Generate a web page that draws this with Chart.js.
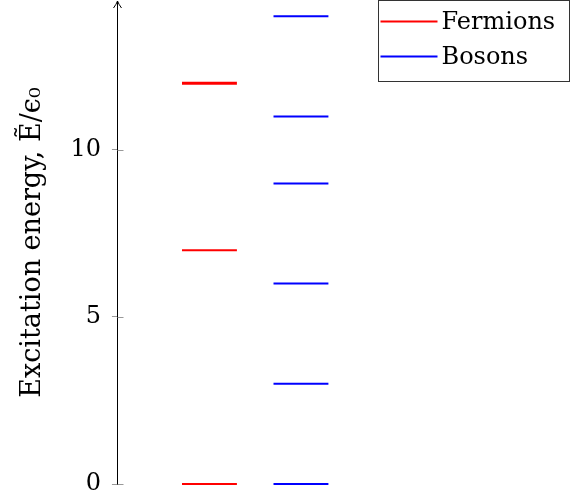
<!DOCTYPE html>
<html>
<head>
<meta charset="utf-8">
<script src="https://cdn.jsdelivr.net/npm/chart.js@4/dist/chart.umd.min.js"></script>
<style>
  html, body { margin: 0; padding: 0; background: #fff; }
  #wrap { width: 570px; height: 499px; }
</style>
</head>
<body>
<div id="wrap"><canvas id="levels"></canvas></div>
<script>
// energy levels, in units of eps0
const seriesNames = ['Fermions', 'Bosons'];
const fermionLevels = [0, 7, 12];
const fermionDegeneracy = [1, 1, 2];
const bosonLevels = [0, 3, 6, 9, 11, 14];
const bosonDegeneracy = [1, 1, 1, 1, 1, 1];
const columnPos = [1, 2];
const yTicks = [0, 5, 10];

const FONT = 'DejaVu Serif';

// each level -> short horizontal segment, gaps between them
function levelPoints(levels, xc) {
  const pts = [];
  levels.forEach(e => {
    pts.push({ x: xc - 0.3, y: e });
    pts.push({ x: xc + 0.3, y: e });
    pts.push({ x: xc, y: null });
  });
  return pts;
}

function degWidth(deg) {
  return ctx => deg[Math.floor(ctx.p0DataIndex / 3)] > 1 ? 3 : 2;
}

// arrow on top of the y axis + inner half of the ticks
const axisArrow = {
  id: 'axisArrow',
  afterDraw(chart) {
    const c = chart.ctx;
    const y = chart.scales.y;
    const x = Math.round(y.right) - 0.5;
    const top = chart.chartArea.top;
    c.save();
    c.strokeStyle = '#999';
    c.lineWidth = 1;
    yTicks.forEach(v => {
      const py = Math.round(y.getPixelForValue(v)) + 0.5;
      c.beginPath();
      c.moveTo(x, py);
      c.lineTo(x + 6, py);
      c.stroke();
    });
    c.strokeStyle = '#000';
    c.beginPath();
    c.moveTo(x - 4, top + 7);
    c.quadraticCurveTo(x - 1, top + 3, x, top);
    c.quadraticCurveTo(x + 1, top + 3, x + 4, top + 7);
    c.stroke();
    c.restore();
  }
};

// boxed legend in the top right corner
const boxLegend = {
  id: 'boxLegend',
  afterDraw(chart) {
    const c = chart.ctx;
    const w = 191, h = 81;
    const x0 = chart.width - w - 0.5, y0 = 0.5;
    c.save();
    c.fillStyle = '#fff';
    c.fillRect(x0, y0, w, h);
    c.strokeStyle = '#333';
    c.lineWidth = 1;
    c.strokeRect(x0, y0, w, h);
    c.font = '24px "' + FONT + '"';
    c.textBaseline = 'middle';
    chart.data.datasets.forEach((ds, i) => {
      const yy = y0 + 21 + i * 35;
      c.strokeStyle = ds.borderColor;
      c.lineWidth = 2;
      c.beginPath();
      c.moveTo(x0 + 2, yy);
      c.lineTo(x0 + 59, yy);
      c.stroke();
      c.fillStyle = '#000';
      c.fillText(ds.label, x0 + 63, yy + 1);
    });
    c.restore();
  }
};

new Chart(document.getElementById('levels'), {
  type: 'line',
  data: {
    datasets: [
      {
        label: seriesNames[0],
        data: levelPoints(fermionLevels, columnPos[0]),
        borderColor: '#ff0000',
        borderWidth: 2,
        pointRadius: 0,
        spanGaps: false,
        clip: false,
        segment: { borderWidth: degWidth(fermionDegeneracy) }
      },
      {
        label: seriesNames[1],
        data: levelPoints(bosonLevels, columnPos[1]),
        borderColor: '#0000ff',
        borderWidth: 2,
        pointRadius: 0,
        spanGaps: false,
        clip: false,
        segment: { borderWidth: degWidth(bosonDegeneracy) }
      }
    ]
  },
  options: {
    responsive: true,
    maintainAspectRatio: false,
    animation: false,
    layout: { padding: { top: 1, bottom: 15, right: 0, left: 4 } },
    plugins: {
      legend: { display: false },
      tooltip: { enabled: false }
    },
    scales: {
      x: {
        type: 'linear',
        display: false,
        min: 0,
        max: 4.94
      },
      y: {
        type: 'linear',
        min: 0,
        max: 14.46,
        border: { display: true, color: '#000', width: 1 },
        grid: { drawOnChartArea: false, tickLength: 6, color: '#999' },
        afterBuildTicks: scale => { scale.ticks = yTicks.map(v => ({ value: v })); },
        afterFit: scale => { scale.paddingTop = 0; scale.paddingBottom = 0; },
        ticks: {
          color: '#000',
          padding: 11,
          font: { family: FONT, size: 24 }
        },
        title: {
          display: true,
          text: 'Excitation energy, Ẽ/ϵ₀',
          color: '#000',
          padding: { top: 13, bottom: 10 },
          font: { family: FONT, size: 27 }
        }
      }
    }
  },
  plugins: [axisArrow, boxLegend]
});
</script>
</body>
</html>
